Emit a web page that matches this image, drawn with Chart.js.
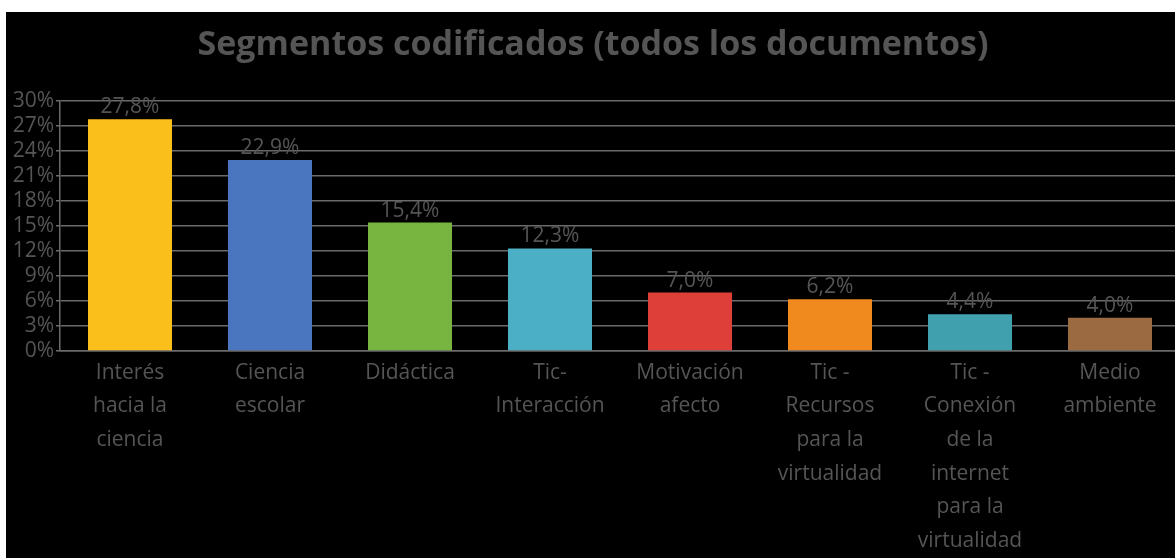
<!DOCTYPE html>
<html>
<head>
<meta charset="utf-8">
<script src="https://cdn.jsdelivr.net/npm/chart.js@4"></script>
<style>
	html, body {
		margin: 0;
		padding: 0;
		background: #ffffff;
		overflow: hidden;
		width: 1175px;
		height: 558px;
	}
	#wrap {
		position: absolute;
		left: 6px;
		top: 12px;
		width: 1185px;
		height: 546px;
		background: #000000;
	}
</style>
</head>
<body>
<div id="wrap"><canvas id="chart"></canvas></div>
<script>
// Categorías (etiquetas en varias líneas)
const categories = [
	[ 'Interés', 'hacia la', 'ciencia' ],
	[ 'Ciencia', 'escolar' ],
	[ 'Didáctica' ],
	[ 'Tic-', 'Interacción' ],
	[ 'Motivación', 'afecto' ],
	[ 'Tic -', 'Recursos', 'para la', 'virtualidad' ],
	[ 'Tic -', 'Conexión', 'de la', 'internet', 'para la', 'virtualidad' ],
	[ 'Medio', 'ambiente' ],
];

// Porcentaje de segmentos codificados
const values = [ 27.8, 22.9, 15.4, 12.3, 7.0, 6.2, 4.4, 4.0 ];

const barColors = [
	'#fbbf1b',
	'#4a76c0',
	'#78b440',
	'#4bb0c6',
	'#de4039',
	'#f0891e',
	'#41a0ae',
	'#9b6a40',
];

const yTicks = [ 0, 3, 6, 9, 12, 15, 18, 21, 24, 27, 30 ];

const textColor = '#555555';
const gridColor = '#6a6a6a';
const baseFont = "'Open Sans', 'Noto Sans', sans-serif";

// 27.8 -> "27,8%"
function formatPct( v ) {
	return v.toFixed( 1 ).replace( '.', ',' ) + '%';
}

// Etiquetas de valor encima de cada barra
const valueLabels = {
	id: 'valueLabels',
	afterDatasetsDraw( chart ) {
		const ctx = chart.ctx;
		const meta = chart.getDatasetMeta( 0 );
		ctx.save();
		ctx.font = '21px ' + baseFont;
		ctx.fillStyle = textColor;
		ctx.textAlign = 'center';
		ctx.textBaseline = 'middle';
		meta.data.forEach( ( bar, i ) => {
			ctx.fillText( formatPct( values[ i ] ), bar.x, bar.y - 12 );
		} );
		ctx.restore();
	},
};

new Chart( document.getElementById( 'chart' ), {
	type: 'bar',
	data: {
		labels: categories,
		datasets: [
			{
				data: values,
				backgroundColor: barColors,
				borderWidth: 0,
				barPercentage: 0.6,
				categoryPercentage: 1,
			},
		],
	},
	options: {
		responsive: true,
		maintainAspectRatio: false,
		animation: false,
		layout: {
			padding: { left: 0, right: 11, top: 0, bottom: 0 },
		},
		plugins: {
			legend: { display: false },
			tooltip: { enabled: false },
			title: {
				display: true,
				text: 'Segmentos codificados (todos los documentos)',
				color: textColor,
				font: { family: baseFont, size: 34, weight: 'bold', lineHeight: 1.2 },
				padding: { top: 13, bottom: 35 },
			},
		},
		scales: {
			x: {
				grid: { display: false, drawTicks: false },
				border: { display: true, color: gridColor, width: 1.5 },
				ticks: {
					color: textColor,
					font: { family: baseFont, size: 21, lineHeight: 1.6 },
					padding: 5,
					maxRotation: 0,
					autoSkip: false,
				},
				afterFit( scale ) {
					scale.height = 207;
				},
			},
			y: {
				min: 0,
				max: 30,
				afterBuildTicks( scale ) {
					scale.ticks = yTicks.map( ( v ) => ( { value: v } ) );
				},
				grid: { color: gridColor, lineWidth: 1.5, tickLength: 4 },
				border: { display: true, color: gridColor, width: 1.5 },
				ticks: {
					color: textColor,
					font: { family: baseFont, size: 21 },
					padding: 2,
					autoSkip: false,
					callback: ( v ) => v + '%',
				},
				afterFit( scale ) {
					scale.width = 54;
				},
			},
		},
	},
	plugins: [ valueLabels ],
} );
</script>
</body>
</html>
